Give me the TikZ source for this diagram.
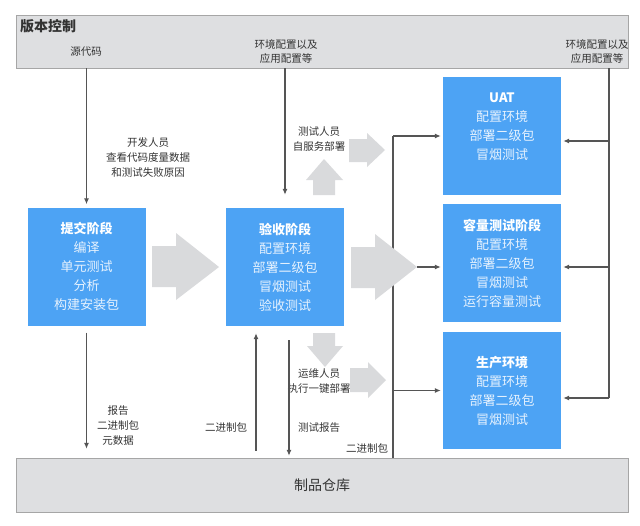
\documentclass[tikz,border=0pt]{standalone}
\usepackage{fontspec}
\setmainfont{Noto Sans CJK SC}
\usetikzlibrary{arrows.meta}
\definecolor{stageblue}{HTML}{4DA3F4}
\definecolor{stagetext}{HTML}{E6F2FE}
\definecolor{barfill}{HTML}{DEDFE1}
\definecolor{bararrow}{HTML}{D9DADC}
\definecolor{linegray}{HTML}{555555}
\definecolor{textgray}{HTML}{333333}

\begin{document}
\begin{tikzpicture}[x=1pt,y=-1pt,%
  every node/.style={inner sep=0pt},%
  bar/.style={draw=black!35,fill=barfill,minimum width=612pt,text=textgray,%
    font=\fontsize{14}{16}\selectfont},%
  stage/.style={fill=stageblue,text=stagetext,minimum width=118pt,%
    minimum height=118pt,align=center,font=\fontsize{13}{19}\selectfont},%
  note/.style={text=textgray,align=center,font=\fontsize{10.5}{15}\selectfont},%
  link/.style={draw=linegray,line width=1.1pt},%
  flow/.style={link,-{Latex[length=6pt,width=5pt]}},%
  bigarrow/.style={fill=bararrow}]

  \useasboundingbox (0,0) rectangle (640,525);

  % bars
  \node [bar,minimum height=53pt] (vcs) at (322,41.5) {};
  \node [bar,minimum height=54pt] (repo) at (322,485) {制品仓库};
  \node [text=textgray,anchor=west,font=\fontsize{14}{16}\selectfont\bfseries]
    (vcstitle) at (20,26) {版本控制};

  % stages
  \node [stage] (commit) at (86.5,266.5)
    {\textcolor{white}{\textbf{提交阶段}}\\编译\\单元测试\\分析\\构建安装包};
  \node [stage] (accept) at (285,267)
    {\textcolor{white}{\textbf{验收阶段}}\\配置环境\\部署二级包\\冒烟测试\\验收测试};
  \node [stage] (uat) at (502,136)
    {\textcolor{white}{\textbf{UAT}}\\配置环境\\部署二级包\\冒烟测试\\~};
  \node [stage] (capacity) at (502,263)
    {\textcolor{white}{\textbf{容量测试阶段}}\\配置环境\\部署二级包\\冒烟测试\\运行容量测试};
  \node [stage,minimum height=117pt] (prod) at (502,390.5)
    {\textcolor{white}{\textbf{生产环境}}\\配置环境\\部署二级包\\冒烟测试};

  % labels
  \node [note] (src) at (86,52) {源代码};
  \node [note,font=\fontsize{10.5}{14}\selectfont] (envcfg) at (286,52)
    {环境配置以及\\应用配置等};
  \node [note,font=\fontsize{10.5}{14}\selectfont] (envcfg2) at (597,52)
    {环境配置以及\\应用配置等};
  \node [note] (dev) at (148,157) {开发人员\\查看代码度量数据\\和测试失败原因};
  \node [note] (tester) at (319,139) {测试人员\\自服务部署};
  \node [note] (ops) at (319,381) {运维人员\\执行一键部署};
  \node [note] (artifacts) at (118,426) {报告\\二进制包\\元数据};
  \node [note] (binup) at (226,427) {二进制包};
  \node [note] (report) at (319,428) {测试报告};
  \node [note] (bindown) at (367,448) {二进制包};

  \coordinate (up) at (256,0);
  \coordinate (down) at (289,0);
  \coordinate (bus) at (393,0);
  \coordinate (fork) at (417,267);
  \coordinate (uatin) at (609,141);
  \coordinate (capin) at (609,267);
  \coordinate (prodin) at (609,398);

  % connectors
  \draw [flow,shorten >=3pt] (vcs.south -| commit.north) -- (commit.north);
  \draw [flow,shorten >=13pt] (vcs.south -| accept.north) -- (accept.north);
  \draw [flow,shorten <=7pt,shorten >=9pt] (commit.south) -- (commit.south |- repo.north);
  \draw [flow,shorten <=7pt,shorten >=7pt] (up |- repo.north) -- (up |- accept.south);
  \draw [flow,shorten <=14pt,shorten >=2pt] (down |- accept.south) -- (down |- repo.north);
  \draw [link] (bus |- repo.north) -- (bus |- uat.west);
  \draw [flow,shorten >=2pt] (bus |- uat.west) -- (uat.west);
  \draw [flow,shorten >=2pt] (bus |- prod.west) -- (prod.west);
  \draw [flow,shorten >=2pt] (fork) -- (fork -| capacity.west);
  \draw [link] (vcs.south -| prodin) -- (prodin);
  \draw [flow,shorten >=2pt] (uatin) -- (uatin -| uat.east);
  \draw [flow,shorten >=2pt] (capin) -- (capin -| capacity.east);
  \draw [flow,shorten >=2pt] (prodin) -- (prodin -| prod.east);

  % big arrows
  \fill [bigarrow] (152,246) -- (176,246) -- (176,233) -- (219,267) -- (176,300)
    -- (176,287) -- (152,287) -- cycle;
  \fill [bigarrow] (351,247) -- (375,247) -- (375,234) -- (417,267) -- (375,300)
    -- (375,288) -- (351,288) -- cycle;
  \fill [bigarrow] (313,195) -- (313,180) -- (306,180) -- (324,159) -- (343,180)
    -- (335,180) -- (335,195) -- cycle;
  \fill [bigarrow] (349,139) -- (367,139) -- (367,133) -- (385,150) -- (367,167)
    -- (367,162) -- (349,162) -- cycle;
  \fill [bigarrow] (313,333) -- (335,333) -- (335,346) -- (343,346) -- (325,367)
    -- (307,346) -- (313,346) -- cycle;
  \fill [bigarrow] (350,368) -- (368,368) -- (368,362) -- (386,380) -- (368,398)
    -- (368,392) -- (350,392) -- cycle;
\end{tikzpicture}
\end{document}
